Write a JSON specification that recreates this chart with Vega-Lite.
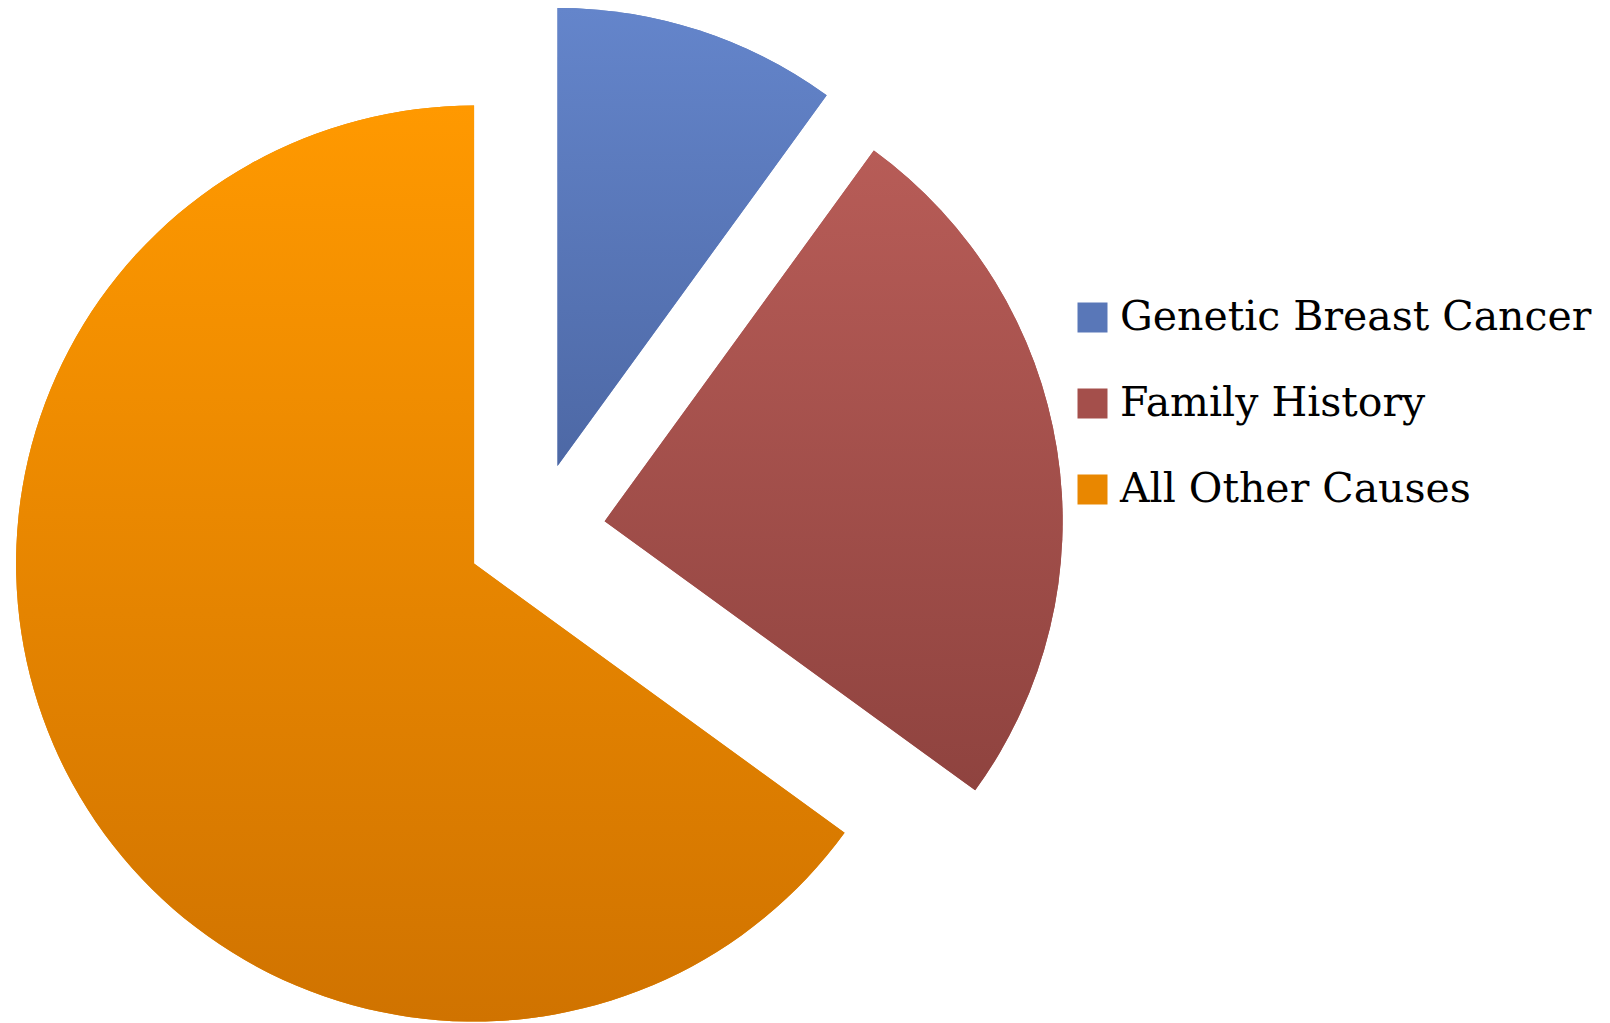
{
  "$schema": "https://vega.github.io/schema/vega-lite/v6.json",
  "autosize": "none",
  "width": 1072,
  "height": 982,
  "padding": {"left": 0, "top": 41, "right": 538, "bottom": 0},
  "background": "white",
  "view": {"stroke": null},
  "data": {
    "values": [
      {"cause": "Genetic Breast Cancer", "share": 10},
      {"cause": "Family History", "share": 25},
      {"cause": "All Other Causes", "share": 65}
    ]
  },
  "transform": [
    {"stack": "share", "groupby": [], "sort": [{"field": "share", "order": "ascending"}], "as": ["s0", "s1"]}
  ],
  "encoding": {
    "theta": {"field": "s0", "type": "quantitative", "scale": {"domain": [0, 100]}},
    "theta2": {"field": "s1"}
  },
  "layer": [
    {
      "mark": {
        "type": "arc",
        "outerRadius": 458,
        "x": {"expr": "width/2 + 69.5*sin(PI*(datum.s0+datum.s1)/100)"},
        "y": {"expr": "height/2 - 69.5*cos(PI*(datum.s0+datum.s1)/100)"}
      },
      "encoding": {
        "color": {
          "field": "cause",
          "type": "nominal",
          "sort": null,
          "scale": {
            "domain": ["Genetic Breast Cancer", "Family History", "All Other Causes"],
            "range": ["#5977B8", "#A44F4B", "#E98700"]
          },
          "legend": {
            "title": null,
            "orient": "none",
            "legendX": 1072,
            "legendY": 256,
            "symbolType": "square",
            "symbolSize": 900,
            "symbolStrokeWidth": 0,
            "labelFont": "DejaVu Serif",
            "labelFontSize": 41,
            "labelColor": "#000000",
            "labelOffset": 7,
            "labelLimit": 800,
            "rowPadding": 44,
            "encode": {
              "symbols": {
                "update": {
                  "fill": {"signal": "datum.value == 'Genetic Breast Cancer' ? {gradient: 'linear', x1: 0, y1: 0, x2: 0, y2: 1, stops: [{offset: 0, color: '#6485CB'}, {offset: 1, color: '#4D68A5'}]} : datum.value == 'Family History' ? {gradient: 'linear', x1: 0, y1: 0, x2: 0, y2: 1, stops: [{offset: 0, color: '#B65B56'}, {offset: 1, color: '#8F433F'}]} : {gradient: 'linear', x1: 0, y1: 0, x2: 0, y2: 1, stops: [{offset: 0, color: '#FF9900'}, {offset: 1, color: '#D17400'}]}"},
                  "opacity": {"value": 1}
                }
              }
            }
          }
        }
      }
    },
    {
      "transform": [{"filter": "datum.cause == 'Genetic Breast Cancer'"}],
      "mark": {
        "type": "arc",
        "outerRadius": 458,
        "x": {"expr": "width/2 + 69.5*sin(PI*(datum.s0+datum.s1)/100)"},
        "y": {"expr": "height/2 - 69.5*cos(PI*(datum.s0+datum.s1)/100)"},
        "fill": {"gradient": "linear", "x1": 0, "y1": 0, "x2": 0, "y2": 1, "stops": [{"offset": 0, "color": "#6485CB"}, {"offset": 1, "color": "#4D68A5"}]}
      }
    },
    {
      "transform": [{"filter": "datum.cause == 'Family History'"}],
      "mark": {
        "type": "arc",
        "outerRadius": 458,
        "x": {"expr": "width/2 + 69.5*sin(PI*(datum.s0+datum.s1)/100)"},
        "y": {"expr": "height/2 - 69.5*cos(PI*(datum.s0+datum.s1)/100)"},
        "fill": {"gradient": "linear", "x1": 0, "y1": 0, "x2": 0, "y2": 1, "stops": [{"offset": 0, "color": "#B75C57"}, {"offset": 1, "color": "#8F433F"}]}
      }
    },
    {
      "transform": [{"filter": "datum.cause == 'All Other Causes'"}],
      "mark": {
        "type": "arc",
        "outerRadius": 458,
        "x": {"expr": "width/2 + 69.5*sin(PI*(datum.s0+datum.s1)/100)"},
        "y": {"expr": "height/2 - 69.5*cos(PI*(datum.s0+datum.s1)/100)"},
        "fill": {"gradient": "linear", "x1": 0, "y1": 0, "x2": 0, "y2": 1, "stops": [{"offset": 0, "color": "#FF9900"}, {"offset": 1, "color": "#D07300"}]}
      }
    }
  ]
}
